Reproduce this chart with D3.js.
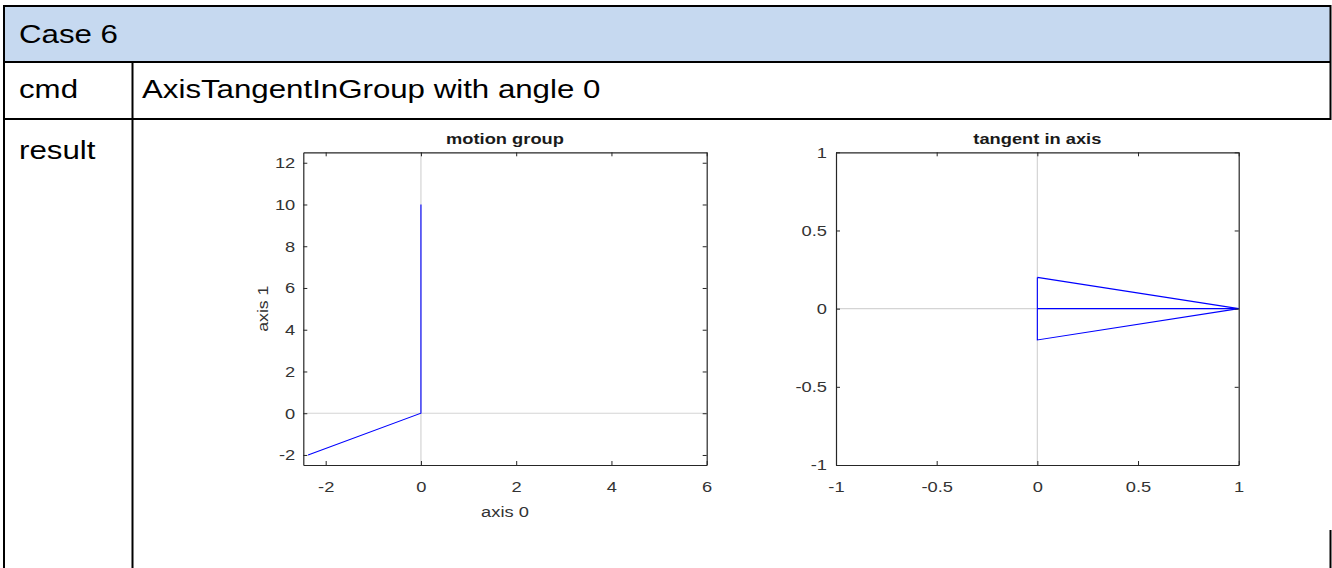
<!DOCTYPE html>
<html>
<head>
<meta charset="utf-8">
<script src="https://cdn.jsdelivr.net/npm/d3@7"></script>
<style>
  html, body { margin: 0; padding: 0; background: #fff; }
  svg { display: block; }
  text { font-family: "Liberation Sans", Arial, Helvetica, sans-serif; }
</style>
</head>
<body>
<svg id="chart" width="1332" height="568"></svg>
<script>
// ---- table texts ----
const caseTitle = "Case 6";
const rowLabels = ["cmd", "result"];
const cmdText = "AxisTangentInGroup with angle 0";

// ---- left plot: motion group ----
const leftTitle = "motion group";
const leftXLabel = "axis 0";
const leftYLabel = "axis 1";
const leftXDomain = [-2.47, 6];
const leftYDomain = [-2.48, 12.5];
const leftXTicks = [-2, 0, 2, 4, 6];
const leftYTicks = [-2, 0, 2, 4, 6, 8, 10, 12];
const motionX = [0, 0, -2.37];
const motionY = [10, 0, -2];

// ---- right plot: tangent in axis ----
const rightTitle = "tangent in axis";
const rightXDomain = [-1, 1];
const rightYDomain = [-1, 1];
const rightXTicks = [-1, -0.5, 0, 0.5, 1];
const rightYTicks = [-1, -0.5, 0, 0.5, 1];
const arrowX = [0, 1, 0, 0];
const arrowY = [0.2, 0, -0.2, 0.2];
const shaftX = [0, 1];
const shaftY = [0, 0];

const SX = 1.25;     // horizontal stretch of the glyphs in the reference
const svg = d3.select("#chart");

function stext(parent, x, y, str, sx) {
  return parent.append("text")
    .attr("transform", `translate(${x},${y}) scale(${sx || SX},1)`)
    .text(str);
}

// ---- table ----
svg.append("rect").attr("x", 4).attr("y", 5).attr("width", 1326).attr("height", 57)
  .attr("fill", "#c6d9f0");
const tbl = svg.append("g").attr("stroke", "#000").attr("stroke-width", 2);
tbl.append("line").attr("x1", 4).attr("x2", 1331).attr("y1", 6).attr("y2", 6);
tbl.append("line").attr("x1", 4).attr("x2", 1331).attr("y1", 62).attr("y2", 62);
tbl.append("line").attr("x1", 4).attr("x2", 1331).attr("y1", 119).attr("y2", 119);
tbl.append("line").attr("x1", 4).attr("x2", 4).attr("y1", 5).attr("y2", 568);
tbl.append("line").attr("x1", 132.5).attr("x2", 132.5).attr("y1", 62).attr("y2", 568);
tbl.append("line").attr("x1", 1330.5).attr("x2", 1330.5).attr("y1", 5).attr("y2", 120);
tbl.append("line").attr("x1", 1330.5).attr("x2", 1330.5).attr("y1", 530).attr("y2", 568);

const tt = svg.append("g").attr("font-size", 25).attr("fill", "#000");
stext(tt, 19, 43, caseTitle);
stext(tt, 19, 98, rowLabels[0]);
stext(tt, 142, 98, cmdText);
stext(tt, 19, 159, rowLabels[1]);

// ---- plot helper ----
const TX = 1.22;
function drawPlot(opt) {
  const x = d3.scaleLinear().domain(opt.xDomain).range([opt.left, opt.right]);
  const y = d3.scaleLinear().domain(opt.yDomain).range([opt.bottom, opt.top]);
  const g = svg.append("g");

  // zero lines
  g.append("line").attr("x1", x(0)).attr("x2", x(0)).attr("y1", opt.top).attr("y2", opt.bottom)
    .attr("stroke", "#d4d4d4").attr("stroke-width", 1.2);
  g.append("line").attr("x1", opt.left).attr("x2", opt.right).attr("y1", y(0)).attr("y2", y(0))
    .attr("stroke", "#d4d4d4").attr("stroke-width", 1.2);

  // data lines
  const line = d3.line().x(d => x(d[0])).y(d => y(d[1]));
  opt.series.forEach(s => {
    g.append("path").datum(d3.zip(s[0], s[1])).attr("d", line)
      .attr("fill", "none").attr("stroke", "#0000ff").attr("stroke-width", 1.1);
  });

  const fmt = d => String(d);
  const tk = 4;
  const axB = g.append("g").attr("transform", `translate(0,${opt.bottom})`)
    .call(d3.axisBottom(x).tickValues(opt.xTicks).tickFormat(fmt).tickSizeInner(-tk).tickSizeOuter(0).tickPadding(16));
  const axT = g.append("g").attr("transform", `translate(0,${opt.top})`)
    .call(d3.axisTop(x).tickValues(opt.xTicks).tickFormat("").tickSizeInner(-tk).tickSizeOuter(0));
  const axL = g.append("g").attr("transform", `translate(${opt.left},0)`)
    .call(d3.axisLeft(y).tickValues(opt.yTicks).tickFormat(fmt).tickSizeInner(-tk).tickSizeOuter(0).tickPadding(opt.yPad / TX));
  const axR = g.append("g").attr("transform", `translate(${opt.right},0)`)
    .call(d3.axisRight(y).tickValues(opt.yTicks).tickFormat("").tickSizeInner(-tk).tickSizeOuter(0));
  [axB, axT, axL, axR].forEach(a => {
    a.selectAll("path.domain").attr("stroke", "#262626").attr("stroke-width", 1.2);
    a.selectAll(".tick line").attr("stroke", "#262626").attr("stroke-width", 1);
    a.selectAll(".tick text").attr("fill", "#333").attr("font-size", 15)
      .attr("font-family", "'Liberation Sans', Arial, sans-serif")
      .attr("transform", `scale(${TX},1)`);
  });

  // title
  stext(g, (opt.left + opt.right) / 2, 144, opt.title, TX)
    .attr("text-anchor", "middle").attr("font-size", 15).attr("font-weight", "bold")
    .attr("fill", "#1a1a1a");
  if (opt.xLabel) {
    stext(g, (opt.left + opt.right) / 2, 517, opt.xLabel, TX)
      .attr("text-anchor", "middle").attr("font-size", 15).attr("fill", "#333");
  }
  if (opt.yLabel) {
    g.append("text")
      .attr("transform", `translate(267.5,${(opt.top + opt.bottom) / 2}) rotate(-90) scale(1.18,1)`)
      .attr("text-anchor", "middle").attr("font-size", 15).attr("fill", "#333").text(opt.yLabel);
  }
}

drawPlot({
  left: 303.3, right: 706.7, top: 152.3, bottom: 465,
  xDomain: leftXDomain, yDomain: leftYDomain,
  xTicks: leftXTicks, yTicks: leftYTicks, yPad: 8,
  series: [[motionX, motionY]],
  title: leftTitle, xLabel: leftXLabel, yLabel: leftYLabel
});
drawPlot({
  left: 836, right: 1238.7, top: 152.3, bottom: 465,
  xDomain: rightXDomain, yDomain: rightYDomain,
  xTicks: rightXTicks, yTicks: rightYTicks, yPad: 9,
  series: [[arrowX, arrowY], [shaftX, shaftY]],
  title: rightTitle
});
</script>
</body>
</html>
